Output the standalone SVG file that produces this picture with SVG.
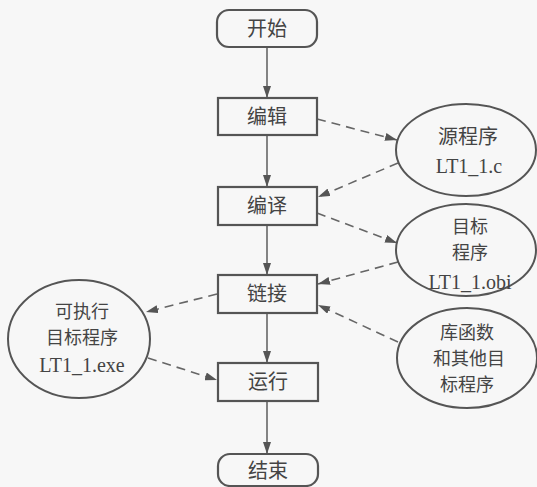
<svg xmlns="http://www.w3.org/2000/svg" width="537" height="487" viewBox="0 0 537 487">
<defs>
<style>
.box{fill:none;stroke:#555;stroke-width:2.2}
.ell{fill:none;stroke:#555;stroke-width:2}
.solid{stroke:#666;stroke-width:1.6;fill:none}
.dash{stroke:#666;stroke-width:1.6;fill:none;stroke-dasharray:9,6}
.zh{font-family:"Noto Sans CJK SC","Noto Sans",sans-serif;font-size:20px;fill:#444;text-anchor:middle}
.zs{font-family:"Noto Sans CJK SC","Noto Sans",sans-serif;font-size:18px;fill:#444;text-anchor:middle}
.en{font-family:"Liberation Serif",serif;font-size:20px;fill:#444;text-anchor:middle}
</style>
<marker id="ah" viewBox="0 0 12 8" refX="12" refY="4" markerWidth="12" markerHeight="8" markerUnits="userSpaceOnUse" orient="auto">
<path d="M0,0 L12,4 L0,8 Z" fill="#555"/>
</marker>
</defs>
<rect width="537" height="487" fill="#f7f7f7"/>
<g id="connectors">
<line class="solid" x1="267" y1="47" x2="267" y2="98" marker-end="url(#ah)"/>
<line class="solid" x1="267" y1="135" x2="267" y2="187" marker-end="url(#ah)"/>
<line class="solid" x1="267" y1="225" x2="267" y2="275" marker-end="url(#ah)"/>
<line class="solid" x1="267" y1="313" x2="267" y2="363" marker-end="url(#ah)"/>
<line class="solid" x1="267" y1="401" x2="267" y2="454" marker-end="url(#ah)"/>
<line class="dash" x1="317" y1="119" x2="397" y2="140" marker-end="url(#ah)"/>
<line class="dash" x1="398" y1="163" x2="318" y2="197" marker-end="url(#ah)"/>
<line class="dash" x1="317" y1="213" x2="397" y2="243" marker-end="url(#ah)"/>
<line class="dash" x1="398" y1="262" x2="318" y2="284" marker-end="url(#ah)"/>
<line class="dash" x1="398" y1="342" x2="318" y2="305" marker-end="url(#ah)"/>
<line class="dash" x1="217" y1="294" x2="146" y2="312" marker-end="url(#ah)"/>
<line class="dash" x1="148" y1="358" x2="217" y2="380" marker-end="url(#ah)"/>
</g>
<g id="start">
<rect class="box" x="217" y="10" width="100" height="37" rx="12"/>
<text class="zh" x="267" y="36">开始</text>
</g>
<g id="edit">
<rect class="box" x="218" y="98" width="99" height="37"/>
<text class="zh" x="267" y="124">编辑</text>
</g>
<g id="compile">
<rect class="box" x="218" y="187" width="99" height="38"/>
<text class="zh" x="267" y="213">编译</text>
</g>
<g id="link">
<rect class="box" x="218" y="275" width="99" height="38"/>
<text class="zh" x="267" y="301">链接</text>
</g>
<g id="run">
<rect class="box" x="218" y="363" width="100" height="38"/>
<text class="zh" x="268" y="389">运行</text>
</g>
<g id="end">
<rect class="box" x="218" y="454" width="100" height="32" rx="12"/>
<text class="zh" x="268" y="478">结束</text>
</g>
<g id="source">
<ellipse class="ell" cx="466" cy="150" rx="70" ry="46"/>
<text class="zh" x="468" y="144">源程序</text>
<text class="en" x="469" y="173">LT1_1.c</text>
</g>
<g id="object">
<ellipse class="ell" cx="466" cy="250" rx="70" ry="46"/>
<text class="zs" x="470" y="233">目标</text>
<text class="zs" x="470" y="259">程序</text>
<text class="en" x="470" y="289">LT1_1.obi</text>
</g>
<g id="library">
<ellipse class="ell" cx="467" cy="358" rx="70" ry="50"/>
<text class="zs" x="467" y="339">库函数</text>
<text class="zs" x="469" y="365">和其他目</text>
<text class="zs" x="467" y="391">标程序</text>
</g>
<g id="exe">
<ellipse class="ell" cx="79" cy="339" rx="71" ry="59"/>
<text class="zs" x="82" y="318">可执行</text>
<text class="zs" x="82" y="344">目标程序</text>
<text class="en" x="82" y="372">LT1_1.exe</text>
</g>
</svg>
